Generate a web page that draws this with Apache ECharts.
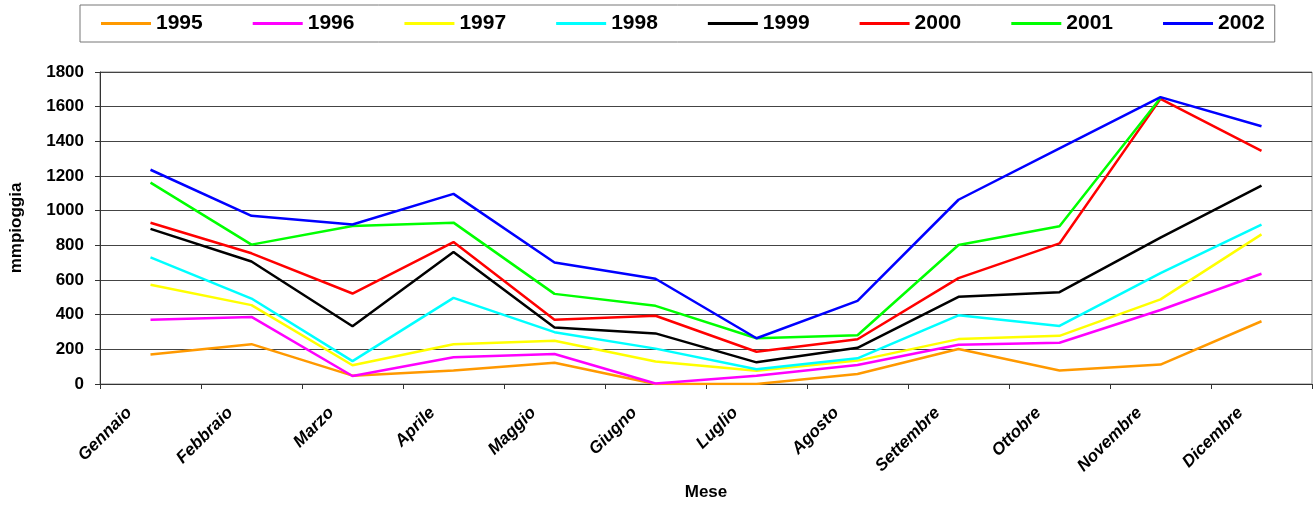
<!DOCTYPE html>
<html>
<head>
<meta charset="utf-8">
<script src="https://cdn.jsdelivr.net/npm/echarts@6/dist/echarts.min.js"></script>
<style>
  html, body { margin: 0; padding: 0; background: #fff; }
  #mainChart { width: 1313px; height: 506px; }
</style>
</head>
<body>
<div id="mainChart"></div>
<script>
  // mesi (asse x)
  var mesi = ['Gennaio', 'Febbraio', 'Marzo', 'Aprile', 'Maggio', 'Giugno',
    'Luglio', 'Agosto', 'Settembre', 'Ottobre', 'Novembre', 'Dicembre'];

  // mm di pioggia per anno
  var y1995 = [170, 230, 48, 78, 123, 0, 0, 58, 202, 78, 112, 362];
  var y1996 = [371, 387, 46, 154, 173, 3, 47, 110, 227, 238, 427, 636];
  var y1997 = [573, 455, 108, 229, 250, 130, 77, 135, 259, 278, 488, 863];
  var y1998 = [730, 493, 132, 497, 299, 204, 85, 148, 396, 335, 640, 920];
  var y1999 = [895, 707, 333, 762, 326, 292, 125, 209, 503, 530, 845, 1145];
  var y2000 = [930, 754, 522, 819, 371, 394, 186, 258, 611, 811, 1645, 1345];
  var y2001 = [1162, 804, 912, 931, 520, 451, 264, 281, 802, 910, 1650, null];
  var y2002 = [1236, 970, 920, 1097, 701, 607, 264, 480, 1063, 1360, 1655, 1487];

  var anni = ['1995', '1996', '1997', '1998', '1999', '2000', '2001', '2002'];
  var valori = [y1995, y1996, y1997, y1998, y1999, y2000, y2001, y2002];
  var colori = ['#FF9900', '#FF00FF', '#FFFF00', '#00FFFF', '#000000', '#FF0000', '#00FF00', '#0000FF'];

  var yTicks = [0, 200, 400, 600, 800, 1000, 1200, 1400, 1600, 1800];

  var font = "'Liberation Sans', Arial, sans-serif";

  var series = [];
  for (var i = 0; i < anni.length; i++) {
    series.push({
      name: anni[i],
      type: 'line',
      data: valori[i],
      symbol: 'none',
      connectNulls: false,
      lineStyle: {color: colori[i], width: 2.5},
      itemStyle: {color: colori[i]}
    });
  }

  var option = {
    animation: false,
    color: colori,
    legend: {
      left: 80,
      top: 5,
      padding: [8, 10, 8, 21],
      itemGap: 50,
      itemWidth: 50,
      itemHeight: 3,
      icon: 'rect',
      borderColor: '#777',
      borderWidth: 1,
      data: anni,
      textStyle: {fontFamily: font, fontWeight: 'bold', fontSize: 21, color: '#000'}
    },
    grid: {
      left: 97,
      right: 1,
      top: 72,
      bottom: 119,
      show: true,
      borderColor: '#888',
      borderWidth: 1
    },
    xAxis: {
      type: 'category',
      data: mesi,
      boundaryGap: true,
      name: 'Mese',
      nameLocation: 'middle',
      nameGap: 100,
      nameTextStyle: {fontFamily: font, fontWeight: 'bold', fontSize: 17, color: '#000'},
      axisLine: {lineStyle: {color: '#333', width: 1}},
      axisTick: {show: true, length: 5, alignWithLabel: false, lineStyle: {color: '#333'}},
      axisLabel: {
        rotate: 45,
        interval: 0,
        margin: 5,
        padding: [0, 30, 0, 0],
        fontFamily: font,
        fontStyle: 'italic',
        fontWeight: 'bold',
        fontSize: 17,
        color: '#000'
      },
      splitLine: {show: false}
    },
    yAxis: {
      type: 'value',
      min: yTicks[0],
      max: yTicks[yTicks.length - 1],
      interval: 200,
      name: 'mmpioggia',
      nameLocation: 'middle',
      nameRotate: 90,
      nameGap: 75,
      nameTextStyle: {fontFamily: font, fontWeight: 'bold', fontSize: 17, color: '#000'},
      axisLine: {show: true, lineStyle: {color: '#333', width: 1}},
      axisTick: {show: true, length: 5, lineStyle: {color: '#333'}},
      axisLabel: {
        margin: 16,
        fontFamily: font,
        fontWeight: 'bold',
        fontSize: 17,
        color: '#000',
        formatter: function (v) {
          return String(v);
        }
      },
      splitLine: {show: true, lineStyle: {color: '#444', width: 1}}
    },
    series: series
  };

  var myChart = echarts.init(document.getElementById('mainChart'));
  myChart.setOption(option);
  window.onresize = function () {
    if (myChart) {
      myChart.resize();
    }
  };
</script>
</body>
</html>
